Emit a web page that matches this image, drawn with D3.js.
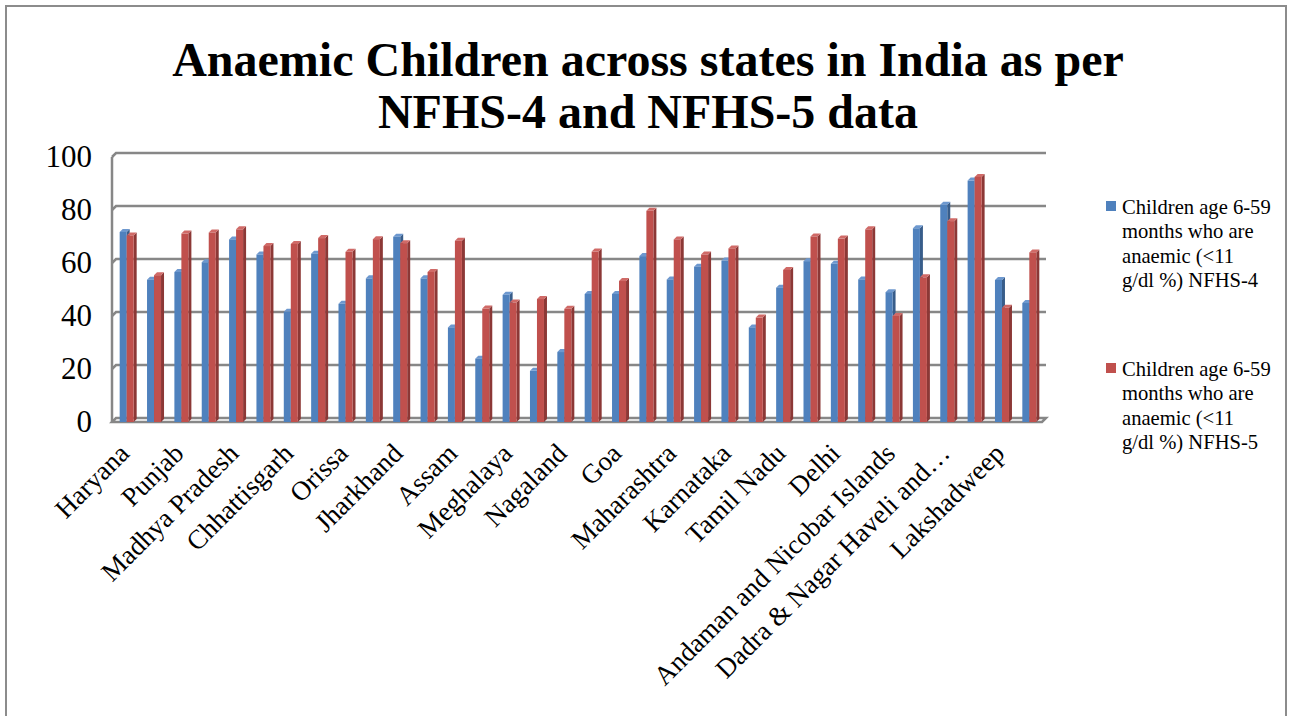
<!DOCTYPE html>
<html>
<head>
<meta charset="utf-8">
<script src="https://cdn.jsdelivr.net/npm/d3@7"></script>
<style>
  html, body { margin: 0; padding: 0; background: #ffffff; }
  svg { display: block; }
  text { font-family: "Liberation Serif", "Times New Roman", serif; fill: #000; }
</style>
</head>
<body>
<svg id="chart" width="1289" height="716"></svg>
<script>
// States / UTs in the order plotted
const states = [
  "Haryana", "Himachal Pradesh", "Punjab", "Rajasthan", "Madhya Pradesh",
  "Uttar Pradesh", "Chhattisgarh", "Bihar", "Orissa", "West Bengal",
  "Jharkhand", "Arunachal Pradesh", "Assam", "Manipur", "Meghalaya",
  "Mizoram", "Nagaland", "Tripura", "Goa", "Gujarat",
  "Maharashtra", "Andhra Pradesh", "Karnataka", "Kerala", "Tamil Nadu",
  "Telangana", "Delhi", "Jammu & Kashmir", "Andaman and Nicobar Islands", "Chandigarh",
  "Dadra & Nagar Haveli and Daman & Diu", "Ladakh", "Lakshadweep", "Puducherry"
];

// Children age 6-59 months who are anaemic (<11 g/dl %)
const nfhs4 = [
  71.7, 53.7, 56.6, 60.3, 68.9, 63.2, 41.6, 63.5, 44.6, 54.2,
  69.9, 54.2, 35.7, 23.9, 48.0, 19.3, 26.4, 48.3, 48.3, 62.6,
  53.8, 58.6, 60.9, 35.7, 50.7, 60.7, 59.7, 53.8, 49.0, 73.1,
  82.0, 91.1, 53.6, 44.9
];
const nfhs5 = [
  70.4, 55.4, 71.1, 71.5, 72.7, 66.4, 67.2, 69.4, 64.2, 69.0,
  67.5, 56.6, 68.4, 42.8, 45.1, 46.4, 42.7, 64.3, 53.2, 79.7,
  68.9, 63.2, 65.5, 39.4, 57.4, 70.0, 69.2, 72.7, 40.0, 54.6,
  75.8, 92.5, 43.1, 64.0
];

// Category axis labels (every other category is labelled)
const tickLabels = [
  "Haryana", "", "Punjab", "", "Madhya Pradesh", "", "Chhattisgarh", "", "Orissa", "",
  "Jharkhand", "", "Assam", "", "Meghalaya", "", "Nagaland", "", "Goa", "",
  "Maharashtra", "", "Karnataka", "", "Tamil Nadu", "", "Delhi", "",
  "Andaman and Nicobar Islands", "", "Dadra & Nagar Haveli and\u2026", "", "Lakshadweep", ""
];
const yTicks = [0, 20, 40, 60, 80, 100];

const seriesNames = [
  ["Children age 6-59", "months who are", "anaemic (<11", "g/dl %) NFHS-4"],
  ["Children age 6-59", "months who are", "anaemic (<11", "g/dl %) NFHS-5"]
];
const titleLines = ["Anaemic Children across states in India as per", "NFHS-4 and NFHS-5 data"];

const serif = "'Liberation Serif', 'Times New Roman', serif";
const svg = d3.select("#chart");

// background + outer frame
svg.append("rect").attr("width", 1289).attr("height", 716).attr("fill", "#ffffff");
svg.append("rect").attr("x", 6).attr("y", 6).attr("width", 1280).attr("height", 730)
  .attr("fill", "none").attr("stroke", "#8c8c8c").attr("stroke-width", 2);

// title
svg.append("g").selectAll("text").data(titleLines).join("text")
  .attr("x", 648).attr("y", (d, i) => 76 + i * 52)
  .attr("text-anchor", "middle")
  .style("font-family", serif)
  .style("font-size", "48px").style("font-weight", "bold")
  .text(d => d);

// scales
const x = d3.scaleBand().domain(states).range([113, 1043]);
const y = d3.scaleLinear().domain([0, 100]).range([422, 157]);

const wallDepth = 4;   // offset of the back wall
const barW = 7;        // front face width of one column
const bd = 3;          // column depth offset
const xLeft = x.range()[0] - 1;
const xRight = x.range()[1] + 3;

// walls and gridlines
const grid = svg.append("g").attr("fill", "none").attr("stroke", "#878787").attr("stroke-width", 2.5);
grid.selectAll("path.gl").data(yTicks.filter(t => t > 0)).join("path")
  .attr("class", "gl")
  .attr("d", t => `M${xLeft},${y(t)} L${xLeft + wallDepth},${y(t) - wallDepth} L${xRight},${y(t) - wallDepth}`);
grid.append("path")
  .attr("d", `M${xLeft},${y(100)} L${xLeft},${y(0)}`);
// floor
grid.append("path")
  .attr("d", `M${xLeft},${y(0)} L${xRight - wallDepth},${y(0)} L${xRight},${y(0) - wallDepth} L${xLeft + wallDepth},${y(0) - wallDepth} Z`);

// 3D-looking columns
const palettes = [
  { front: "#4f81bd", side: "#385d8a", top: "#6d98cf" },
  { front: "#c0504d", side: "#8c3836", top: "#d06a67" }
];
const series = [nfhs4, nfhs5];
const bars = svg.append("g");

states.forEach((s, i) => {
  const gx = x(s) + (x.bandwidth() - 2 * barW) / 2;
  series.forEach((vals, k) => {
    const v = vals[i];
    const x0 = gx + k * barW, x1 = x0 + barW;
    const yt = y(v), yb = y(0);
    const pal = palettes[k];
    const g = bars.append("g");
    // side face
    g.append("path")
      .attr("d", `M${x1},${yb} L${x1},${yt} L${x1 + bd},${yt - bd} L${x1 + bd},${yb - bd} Z`)
      .attr("fill", pal.side);
    // top face
    g.append("path")
      .attr("d", `M${x0},${yt} L${x1},${yt} L${x1 + bd},${yt - bd} L${x0 + bd},${yt - bd} Z`)
      .attr("fill", pal.top);
    // front face
    g.append("rect")
      .attr("x", x0).attr("y", yt).attr("width", barW).attr("height", yb - yt)
      .attr("fill", pal.front);
  });
});

// value axis
const yAxis = svg.append("g")
  .attr("transform", "translate(94,0)")
  .call(d3.axisLeft(y).tickValues(yTicks).tickSize(0).tickPadding(2).tickFormat(d3.format("d")))
  .attr("font-family", serif)
  .attr("font-size", 31);
yAxis.select(".domain").remove();
yAxis.selectAll("text")
  .style("font-family", serif)
  .style("font-size", "31px").attr("fill", "#000");

// category labels
svg.append("g").selectAll("text").data(states).join("text")
  .attr("transform", s => `translate(${x(s) + x.bandwidth() / 2 + 4},${455}) rotate(-45)`)
  .attr("text-anchor", "end")
  .style("font-family", serif)
  .style("font-size", "27px")
  .text((s, i) => tickLabels[i]);

// legend
const legend = svg.append("g");
seriesNames.forEach((lines, k) => {
  const top = 214 + k * 162;
  legend.append("rect")
    .attr("x", 1106).attr("y", top - 13).attr("width", 10).attr("height", 10)
    .attr("fill", palettes[k].front);
  legend.append("text")
    .attr("x", 1122).attr("y", top)
    .style("font-family", serif)
    .style("font-size", "20.6px")
    .selectAll("tspan").data(lines).join("tspan")
    .attr("x", 1122).attr("dy", (d, i) => i === 0 ? 0 : 24.3)
    .text(d => d);
});
</script>
</body>
</html>
